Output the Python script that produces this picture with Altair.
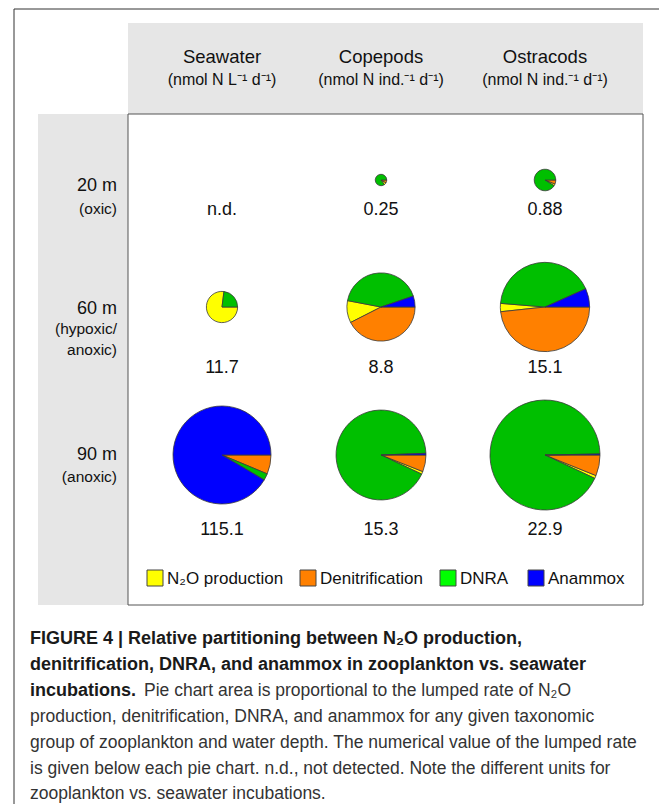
import math
import altair as alt
import pandas as pd

# ---------------- data ----------------
columns = ["Seawater", "Copepods", "Ostracods"]
units = ["(nmol N L⁻¹ d⁻¹)", "(nmol N ind.⁻¹ d⁻¹)", "(nmol N ind.⁻¹ d⁻¹)"]
depths = [20, 60, 90]
depth_labels = ["20 m", "60 m", "90 m"]
depth_notes = ["(oxic)", "(hypoxic/\nanoxic)", "(anoxic)"]
processes = ["N₂O production", "Denitrification", "DNRA", "Anammox"]
# slice order, clockwise from 3 o'clock
slice_order = ["Denitrification", "N₂O production", "DNRA", "Anammox"]

# lumped rates (None = not detected)
rate_seawater = [None, 11.7, 115.1]
rate_copepods = [0.25, 8.8, 15.3]
rate_ostracods = [0.88, 15.1, 22.9]

# percent share per depth: [N2O production, Denitrification, DNRA, Anammox]
share_seawater = [None, [77.0, 0.0, 23.0, 0.0], [0.0, 6.3, 2.2, 91.5]]
share_copepods = [[7.0, 8.0, 85.0, 0.0], [10.5, 42.5, 41.8, 5.2], [1.0, 6.0, 92.4, 0.6]]
share_ostracods = [[3.0, 6.0, 91.0, 0.0], [3.0, 48.3, 42.0, 6.7], [0.9, 6.1, 92.7, 0.3]]

caption_bold = [
    "FIGURE 4 | Relative partitioning between N₂O production,",
    "denitrification, DNRA, and anammox in zooplankton vs. seawater",
    "incubations.",
]
caption_regular = [
    "Pie chart area is proportional to the lumped rate of N₂O",
    "production, denitrification, DNRA, and anammox for any given taxonomic",
    "group of zooplankton and water depth. The numerical value of the lumped rate",
    "is given below each pie chart. n.d., not detected. Note the different units for",
    "zooplankton vs. seawater incubations.",
]

# ---------------- styles ----------------
FONT = "Liberation Sans"
pie_colors = ["#FFFF00", "#FF8000", "#00BF00", "#0000FF"]
legend_colors = ["#FFFF00", "#FF8000", "#00FF00", "#0000FF"]
GRAY = "#E6E6E6"

# ---------------- tables ----------------
rows = []
all_rates = [rate_seawater, rate_copepods, rate_ostracods]
all_shares = [share_seawater, share_copepods, share_ostracods]
labels = []
for ci, col in enumerate(columns):
    for di, d in enumerate(depths):
        r = all_rates[ci][di]
        labels.append(dict(ci=ci, depth=d, text="n.d." if r is None else f"{r:g}"))
        if r is None:
            continue
        for pi, p in enumerate(processes):
            v = all_shares[ci][di][pi]
            if v > 0:
                rows.append(dict(col=col, ci=ci, depth=d, process=p,
                                 ord=slice_order.index(p), pct=v, rate=r))
pie_df = pd.DataFrame(rows)
label_df = pd.DataFrame(labels)
head_df = pd.DataFrame(dict(ci=list(range(len(columns))), name=columns, unit=units))
row_df = pd.DataFrame(dict(depth=depths, label=depth_labels, note=depth_notes))
leg_df = pd.DataFrame(dict(i=list(range(len(processes))), process=processes))

# ---------------- scales ----------------
x_scale = alt.Scale(domain=[0, 1, 2], range=[214, 373, 537], zero=False, nice=False)
def y_scale(rng):
    return alt.Scale(domain=depths, range=rng, zero=False, nice=False)

one = alt.Data(values=[{}])

def rect(x1, x2, y1, y2, fill, stroke=None):
    kw = dict(fill=fill)
    if stroke:
        kw.update(stroke=stroke, strokeWidth=1)
    return alt.Chart(one).mark_rect(**kw).encode(
        x=alt.value(x1), x2=alt.value(x2), y=alt.value(y1), y2=alt.value(y2))

layers = []
# outer frame
layers.append(alt.Chart(one).mark_rule(color="#333333", strokeWidth=1).encode(
    x=alt.value(6), x2=alt.value(6), y=alt.value(1), y2=alt.value(796)))
layers.append(alt.Chart(one).mark_rule(color="#333333", strokeWidth=1).encode(
    x=alt.value(6), x2=alt.value(651), y=alt.value(1), y2=alt.value(1)))
# header and row panels
layers.append(rect(120, 635, 15, 106, GRAY))
layers.append(rect(30, 120, 106, 597, GRAY))
layers.append(rect(120, 635, 106, 597, "white", "#555555"))

# column headers
layers.append(alt.Chart(head_df).mark_text(fontSize=18.5, font=FONT, color="#111").encode(
    x=alt.X("ci:Q", scale=x_scale, axis=None), y=alt.value(49), text="name:N"))
layers.append(alt.Chart(head_df).mark_text(fontSize=16, font=FONT, color="#111").encode(
    x=alt.X("ci:Q", scale=x_scale, axis=None), y=alt.value(72), text="unit:N"))

# row headers
layers.append(alt.Chart(row_df).mark_text(fontSize=18, font=FONT, align="right", color="#111").encode(
    x=alt.value(109), y=alt.Y("depth:Q", scale=y_scale([178, 301, 447]), axis=None), text="label:N"))
layers.append(alt.Chart(row_df).mark_text(fontSize=15.5, font=FONT, align="right", baseline="top",
                                          lineBreak="\n", lineHeight=21, color="#111").encode(
    x=alt.value(109), y=alt.Y("depth:Q", scale=y_scale([194, 314, 462]), axis=None), text="note:N"))

# pies
def pie_layer(df, rmax_rate, rmax_px):
    return alt.Chart(df).transform_stack(
        stack="pct", groupby=["col", "depth"], as_=["t0", "t1"],
        offset="normalize", sort=[alt.SortField("ord", order="ascending")]
    ).mark_arc(stroke="#3a3a3a", strokeWidth=0.8).encode(
        x=alt.X("ci:Q", scale=x_scale, axis=None),
        y=alt.Y("depth:Q", scale=y_scale([172, 299, 447]), axis=None),
        theta=alt.Theta("t0:Q", scale=alt.Scale(domain=[0, 1], range=[math.pi / 2, 5 * math.pi / 2]), stack=None),
        theta2="t1:Q",
        radius=alt.Radius("rate:Q", scale=alt.Scale(type="sqrt", zero=True, domain=[0, rmax_rate], range=[0, rmax_px])),
        color=alt.Color("process:N", scale=alt.Scale(domain=processes, range=pie_colors), legend=None),
    )

layers.append(pie_layer(pie_df[pie_df.col == "Seawater"], 115.1, 49))
layers.append(pie_layer(pie_df[pie_df.col != "Seawater"], 22.9, 55))

# value labels
layers.append(alt.Chart(label_df).mark_text(fontSize=18, font=FONT, color="#111").encode(
    x=alt.X("ci:Q", scale=x_scale, axis=None),
    y=alt.Y("depth:Q", scale=y_scale([202, 360, 522]), axis=None), text="text:N"))

# legend
leg_x = alt.Scale(domain=[0, 1, 2, 3], range=[147, 300, 440, 528], zero=False, nice=False)
layers.append(alt.Chart(leg_df).mark_square(size=256, stroke="#444444", strokeWidth=1, opacity=1).encode(
    x=alt.X("i:Q", scale=leg_x, axis=None), y=alt.value(570),
    color=alt.Color("process:N", scale=alt.Scale(domain=processes, range=legend_colors), legend=None)))
layers.append(alt.Chart(leg_df).mark_text(fontSize=17, font=FONT, align="left", dx=12, color="#111").encode(
    x=alt.X("i:Q", scale=leg_x, axis=None), y=alt.value(571), text="process:N"))

# caption
cap_y = [631, 657, 683, 709, 735, 761, 786]
for k, line in enumerate(caption_bold):
    layers.append(alt.Chart(one).mark_text(text=line, fontSize=18, fontWeight="bold", font=FONT,
                                           align="left", color="#1a1a1a").encode(
        x=alt.value(22), y=alt.value(cap_y[k])))
for k, line in enumerate(caption_regular):
    xx = 136 if k == 0 else 22
    layers.append(alt.Chart(one).mark_text(text=line, fontSize=17.5, font=FONT,
                                           align="left", color="#333333").encode(
        x=alt.value(xx), y=alt.value(cap_y[k + 2])))

chart = alt.layer(*layers).properties(
    width=651, height=796, autosize="none", padding=0
).resolve_scale(
    x="independent", y="independent", color="independent", radius="independent", theta="independent"
).configure_view(stroke=None)

chart.save("out.html", embed_options={"renderer": "svg", "actions": False})
